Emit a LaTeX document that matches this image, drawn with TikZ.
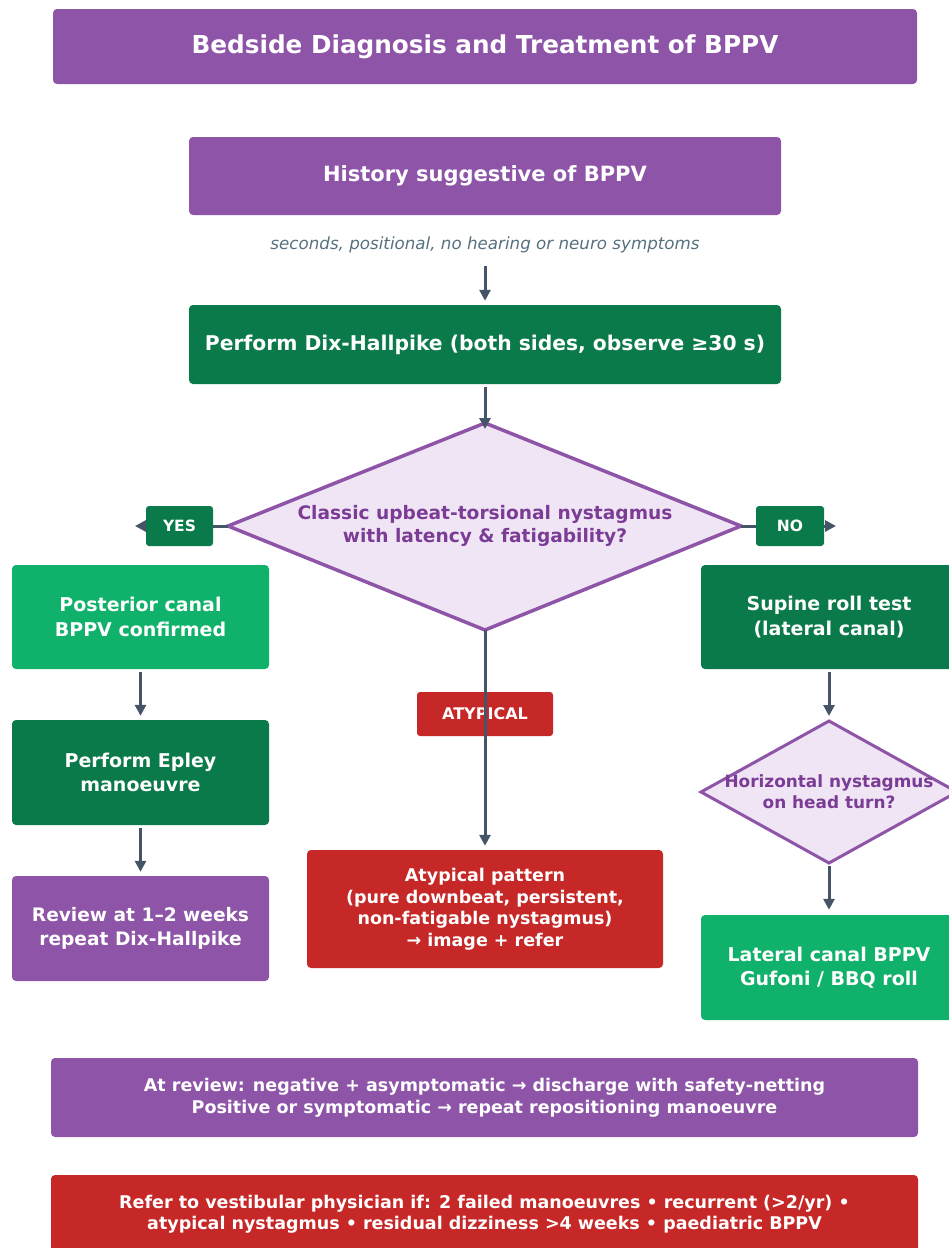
\documentclass[tikz,border=0pt]{standalone}
\usepackage{fontspec}
\setmainfont{DejaVu Sans}
\usetikzlibrary{arrows.meta}
\definecolor{purp}{HTML}{8E54A8}
\definecolor{dgreen}{HTML}{0B7A4A}
\definecolor{bgreen}{HTML}{10B26B}
\definecolor{redc}{HTML}{C62828}
\definecolor{arrowc}{HTML}{465468}
\definecolor{diafill}{HTML}{F0E5F5}
\definecolor{diatext}{HTML}{7B3C96}
\definecolor{subc}{HTML}{56707E}
\begin{document}
\begin{tikzpicture}[x=1pt,y=-1pt,
  box/.style={rectangle, rounded corners=4pt, text=white, align=center, inner sep=0pt},
  fbig/.style={font=\fontsize{24.7}{29}\selectfont\bfseries},
  fmid/.style={font=\fontsize{21}{25}\selectfont\bfseries},
  fsm/.style={font=\fontsize{19}{24.5}\selectfont\bfseries},
  fxs/.style={font=\fontsize{17.5}{21.5}\selectfont\bfseries},
  tag/.style={rectangle, rounded corners=3pt, text=white, inner sep=0pt, font=\fontsize{15.5}{18}\selectfont\bfseries},
  arr/.style={draw=arrowc, line width=3pt, -{Triangle[length=11pt,width=11pt]}, shorten >=4pt, shorten <=3pt},
  dshape/.style={draw=purp, line width=3.5pt, fill=diafill, line join=miter},
]
\useasboundingbox (0,0) rectangle (949,1248);
\clip (0,0) rectangle (949,1248);

% top
\node[box, fbig, fill=purp, minimum width=864pt, minimum height=75pt] (title) at (485,46.5) {Bedside Diagnosis and Treatment of BPPV};
\node[box, fmid, fill=purp, minimum width=592pt, minimum height=78pt] (hist) at (485,176) {History suggestive of BPPV};
\node[inner sep=0pt, text=subc, font=\fontsize{16.7}{19}\selectfont\itshape] (sub) at (485,245) {seconds, positional, no hearing or neuro symptoms};
\node[box, font=\fontsize{20.3}{25}\selectfont\bfseries, fill=dgreen, minimum width=592pt, minimum height=79pt] (dix) at (485,344.5) {Perform Dix-Hallpike (both sides, observe ≥30 s)};

% main diamond
\coordinate (diaT) at (485,423);
\coordinate (diaB) at (485,630);
\coordinate (diaL) at (228,526);
\coordinate (diaR) at (741,526);
\draw[dshape] (diaT) -- (diaR) -- (diaB) -- (diaL) -- cycle;
\node[align=center, inner sep=0pt, text=diatext, font=\fontsize{18.6}{23}\selectfont\bfseries] (dia) at (485,526) {Classic upbeat-torsional nystagmus\\with latency \& fatigability?};

% yes / no arrows
\coordinate (yesend) at (135,526);
\coordinate (noend) at (836,526);
\draw[arr, shorten >=0pt, shorten <=0pt] (diaL) -- (yesend);
\draw[arr, shorten >=0pt, shorten <=0pt] (diaR) -- (noend);
\node[tag, fill=dgreen, minimum width=67pt, minimum height=40pt] (yes) at (179.5,526) {YES};
\node[tag, fill=dgreen, minimum width=68pt, minimum height=40pt] (no) at (790,526) {NO};

% left column
\node[box, fsm, fill=bgreen, minimum width=257pt, minimum height=104pt] (post) at (140.5,617) {Posterior canal\\BPPV confirmed};
\node[box, fsm, fill=dgreen, minimum width=257pt, minimum height=105pt] (epley) at (140.5,772.5) {Perform Epley\\manoeuvre};
\node[box, font=\fontsize{18.6}{24.5}\selectfont\bfseries, fill=purp, minimum width=257pt, minimum height=105pt] (review) at (140.5,928.5) {Review at 1–2 weeks\\repeat Dix-Hallpike};

% right column
\node[box, fsm, fill=dgreen, minimum width=256pt, minimum height=104pt] (supine) at (829,617) {Supine roll test\\(lateral canal)};
\coordinate (sdT) at (829,721);
\coordinate (sdB) at (829,863);
\coordinate (sdL) at (701,792);
\coordinate (sdR) at (957,792);
\draw[dshape, line width=3pt] (sdT) -- (sdR) -- (sdB) -- (sdL) -- cycle;
\node[align=center, inner sep=0pt, text=diatext, font=\fontsize{16.9}{21}\selectfont\bfseries] (sdia) at (829,792) {Horizontal nystagmus\\on head turn?};
\node[box, fsm, fill=bgreen, minimum width=256pt, minimum height=105pt] (lateral) at (829,967.5) {Lateral canal BPPV\\Gufoni / BBQ roll};

% middle
\node[tag, fill=redc, minimum width=136pt, minimum height=44pt, font=\fontsize{16}{19}\selectfont\bfseries] (atyplab) at (485,714) {ATYPICAL};
\node[box, fxs, fill=redc, minimum width=356pt, minimum height=118pt] (atyp) at (485,909) {Atypical pattern\\(pure downbeat, persistent,\\non-fatigable nystagmus)\\→ image + refer};

% bottom
\node[box, fxs, fill=purp, minimum width=867pt, minimum height=79pt] (disch) at (484.5,1097.5) {At review: negative + asymptomatic → discharge with safety-netting\\Positive or symptomatic → repeat repositioning manoeuvre};
\node[box, fxs, fill=redc, minimum width=867pt, minimum height=78pt] (refer) at (484.5,1214) {Refer to vestibular physician if: 2 failed manoeuvres • recurrent (>2/yr) •\\atypical nystagmus • residual dizziness >4 weeks • paediatric BPPV};

% arrows
\draw[arr, shorten <=13pt] (sub.south) -- (dix.north);
\draw[arr, shorten >=-6pt] (dix.south) -- (diaT);
\draw[arr, shorten <=0pt] (diaB) -- (atyp.north);
\draw[arr] (post.south) -- (epley.north);
\draw[arr] (epley.south) -- (review.north);
\draw[arr, shorten >=5pt] (supine.south) -- (sdT);
\draw[arr, shorten >=5pt] (sdB) -- (lateral.north);
\end{tikzpicture}
\end{document}
